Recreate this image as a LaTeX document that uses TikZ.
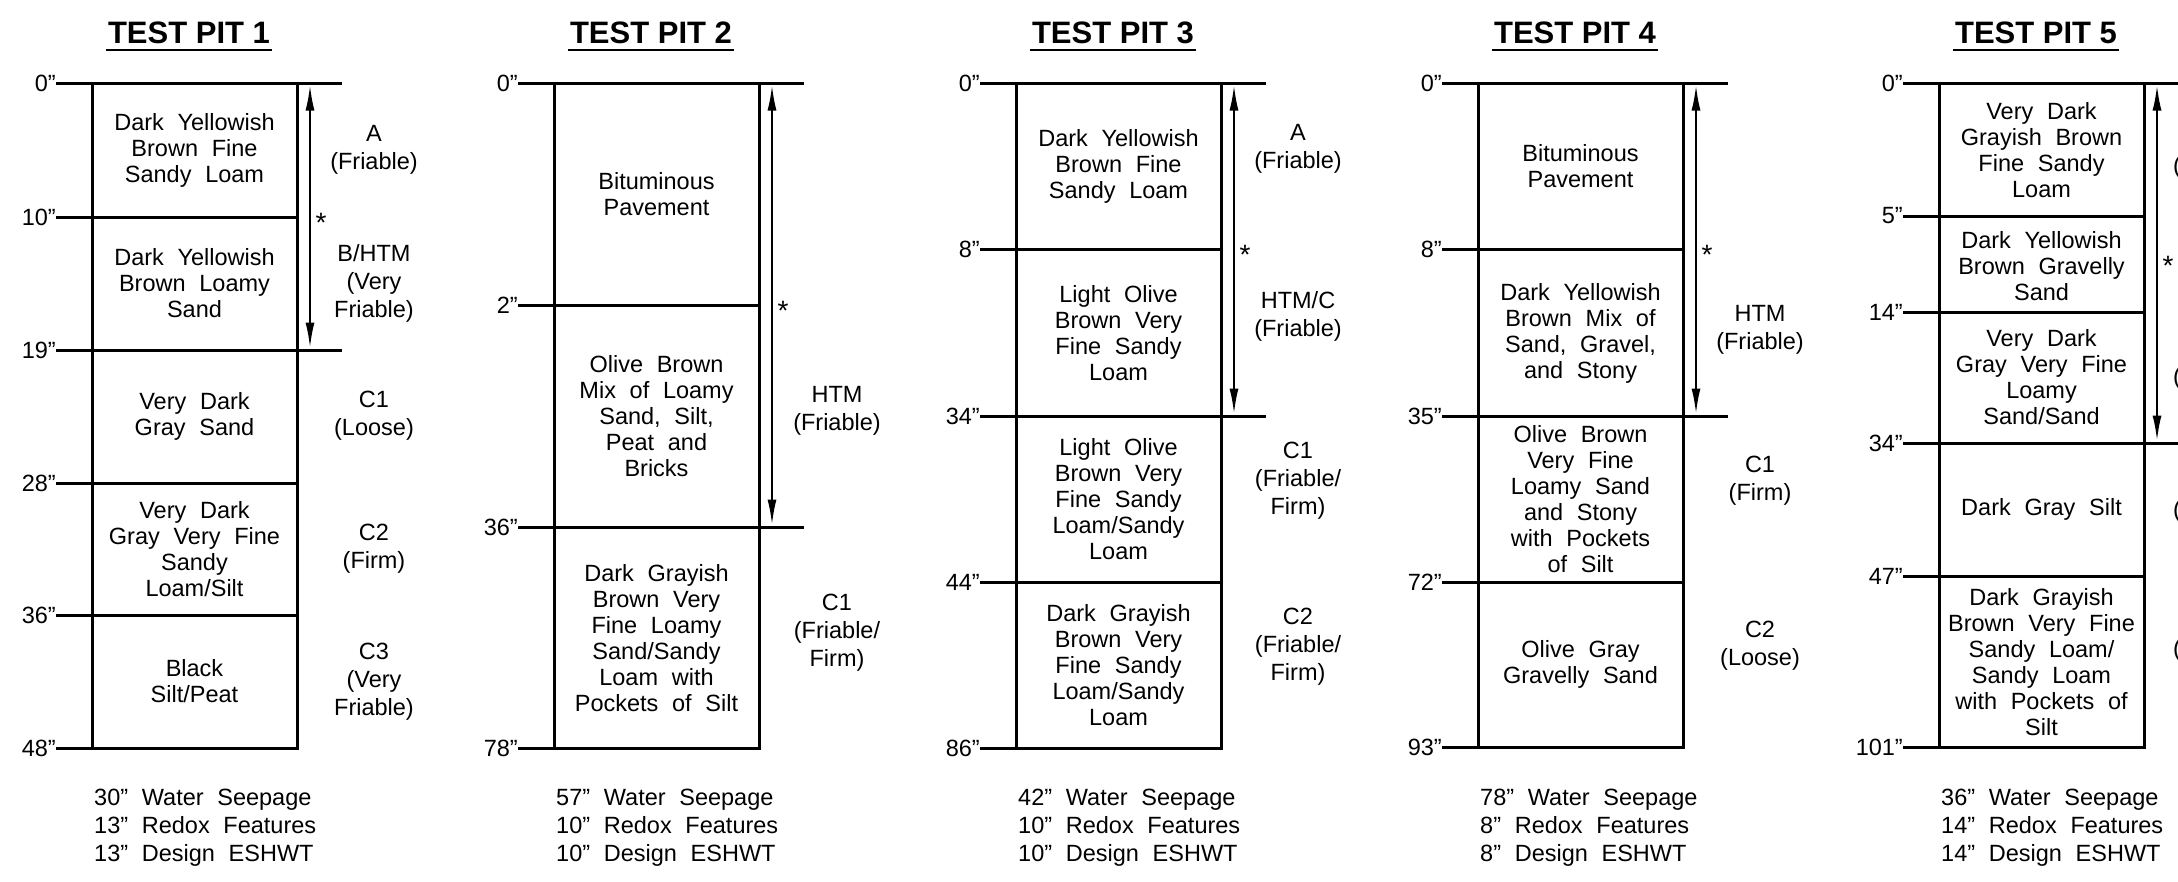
\documentclass[tikz,border=0pt]{standalone}
\usepackage{fontspec}
\setmainfont{Liberation Sans}[WordSpace=2.1]
\newfontfamily\titlefont{Liberation Sans}[WordSpace=1]
\usetikzlibrary{arrows.meta,calc}
\tikzset{
  soil/.style={align=center,inner sep=0pt,font=\fontsize{23.5}{26}\selectfont},
  hz/.style={align=center,inner sep=0pt,font=\fontsize{23.5}{28}\selectfont},
  dlbl/.style={anchor=east,inner sep=0pt,xshift=-1pt,font=\fontsize{23.5}{26}\selectfont},
  note/.style={anchor=base west,inner sep=0pt,font=\fontsize{23.5}{26}\selectfont},
  ttl/.style={anchor=base,inner sep=0pt,font=\titlefont\bfseries\fontsize{31}{31}\selectfont},
  uline/.style={line width=2.6pt},
  bnd/.style={line width=3pt,line cap=rect},
  dimarr/.style={line width=2.4pt,{Latex[length=26pt,width=9pt]}-{Latex[length=26pt,width=9pt]},shorten <=1.5pt,shorten >=1.5pt},
  ast/.style={inner sep=0pt,yshift=-6pt,font=\fontsize{28}{30}\selectfont},
  paren/.style={anchor=west,inner sep=0pt,font=\fontsize{23.5}{26}\selectfont},
}
\begin{document}
\begin{tikzpicture}[x=1pt,y=-1pt]
\useasboundingbox (0,0) rectangle (2178,881);
\clip (0,0) rectangle (2178,881);
\fill[white] (0,0) rectangle (2178,881);

% ---------------- TEST PIT 1 ----------------
\begin{scope}[xshift=92pt]
\node[ttl] (t1) at (97,43) {TEST PIT 1};
\draw[uline] ($(t1.base west)+(-2,7)$) -- ($(t1.base east)+(2,7)$);
\draw[bnd] (0,83) -- (0,748) (205,83) -- (205,748);
\draw[bnd] (-35,83) -- (248,83) (-35,217) -- (205,217) (-35,350) -- (248,350)
  (-35,483) -- (205,483) (-35,615) -- (205,615) (-35,748) -- (205,748);
\node[dlbl] (d1a) at (-35,83) {0”};
\node[dlbl] (d1b) at (-35,217) {10”};
\node[dlbl] (d1c) at (-35,350) {19”};
\node[dlbl] (d1d) at (-35,483) {28”};
\node[dlbl] (d1e) at (-35,615) {36”};
\node[dlbl] (d1f) at (-35,748) {48”};
\coordinate (a1t) at (218,83); \coordinate (a1b) at (218,350);
\draw[dimarr] (a1t) -- (a1b);
\node[ast] (s1) at (229,217) {*};
\node[soil] (l1a) at (102.5,150) {Dark Yellowish\\Brown Fine\\Sandy Loam};
\node[soil] (l1b) at (102.5,283) {Dark Yellowish\\Brown Loamy\\Sand};
\node[soil] (l1c) at (102.5,416) {Very Dark\\Gray Sand};
\node[soil] (l1d) at (102.5,549) {Very Dark\\Gray Very Fine\\Sandy\\Loam/Silt};
\node[soil] (l1e) at (102.5,681) {Black\\Silt/Peat};
\node[hz] (h1a) at (282,150) {A\\(Friable)};
\node[hz] (h1b) at (282,283) {B/HTM\\(Very\\Friable)};
\node[hz] (h1c) at (282,416) {C1\\(Loose)};
\node[hz] (h1d) at (282,549) {C2\\(Firm)};
\node[hz] (h1e) at (282,682) {C3\\(Very\\Friable)};
\node[note] (n1a) at (2,805) {30” Water Seepage};
\node[note] (n1b) at (2,833) {13” Redox Features};
\node[note] (n1c) at (2,861) {13” Design ESHWT};
\end{scope}

% ---------------- TEST PIT 2 ----------------
\begin{scope}[xshift=554pt]
\node[ttl] (t2) at (97,43) {TEST PIT 2};
\draw[uline] ($(t2.base west)+(-2,7)$) -- ($(t2.base east)+(2,7)$);
\draw[bnd] (0,83) -- (0,748) (205,83) -- (205,748);
\draw[bnd] (-35,83) -- (248,83) (-35,305) -- (205,305) (-35,527) -- (248,527)
  (-35,748) -- (205,748);
\node[dlbl] (d2a) at (-35,83) {0”};
\node[dlbl] (d2b) at (-35,305) {2”};
\node[dlbl] (d2c) at (-35,527) {36”};
\node[dlbl] (d2d) at (-35,748) {78”};
\coordinate (a2t) at (218,83); \coordinate (a2b) at (218,527);
\draw[dimarr] (a2t) -- (a2b);
\node[ast] (s2) at (229,305) {*};
\node[soil] (l2a) at (102.5,194) {Bituminous\\Pavement};
\node[soil] (l2b) at (102.5,416) {Olive Brown\\Mix of Loamy\\Sand, Silt,\\Peat and\\Bricks};
\node[soil] (l2c) at (102.5,638) {Dark Grayish\\Brown Very\\Fine Loamy\\Sand/Sandy\\Loam with\\Pockets of Silt};
\node[hz] (h2a) at (283,411) {HTM\\(Friable)};
\node[hz] (h2b) at (283,633) {C1\\(Friable/\\Firm)};
\node[note] (n2a) at (2,805) {57” Water Seepage};
\node[note] (n2b) at (2,833) {10” Redox Features};
\node[note] (n2c) at (2,861) {10” Design ESHWT};
\end{scope}

% ---------------- TEST PIT 3 ----------------
\begin{scope}[xshift=1016pt]
\node[ttl] (t3) at (97,43) {TEST PIT 3};
\draw[uline] ($(t3.base west)+(-2,7)$) -- ($(t3.base east)+(2,7)$);
\draw[bnd] (0,83) -- (0,748) (205,83) -- (205,748);
\draw[bnd] (-35,83) -- (248,83) (-35,249) -- (205,249) (-35,416) -- (248,416)
  (-35,582) -- (205,582) (-35,748) -- (205,748);
\node[dlbl] (d3a) at (-35,83) {0”};
\node[dlbl] (d3b) at (-35,249) {8”};
\node[dlbl] (d3c) at (-35,416) {34”};
\node[dlbl] (d3d) at (-35,582) {44”};
\node[dlbl] (d3e) at (-35,748) {86”};
\coordinate (a3t) at (218,83); \coordinate (a3b) at (218,416);
\draw[dimarr] (a3t) -- (a3b);
\node[ast] (s3) at (229,249) {*};
\node[soil] (l3a) at (102.5,166) {Dark Yellowish\\Brown Fine\\Sandy Loam};
\node[soil] (l3b) at (102.5,333) {Light Olive\\Brown Very\\Fine Sandy\\Loam};
\node[soil] (l3c) at (102.5,499) {Light Olive\\Brown Very\\Fine Sandy\\Loam/Sandy\\Loam};
\node[soil] (l3d) at (102.5,665) {Dark Grayish\\Brown Very\\Fine Sandy\\Loam/Sandy\\Loam};
\node[hz] (h3a) at (282,149) {A\\(Friable)};
\node[hz] (h3b) at (282,316) {HTM/C\\(Friable)};
\node[hz] (h3c) at (282,481) {C1\\(Friable/\\Firm)};
\node[hz] (h3d) at (282,647) {C2\\(Friable/\\Firm)};
\node[note] (n3a) at (2,805) {42” Water Seepage};
\node[note] (n3b) at (2,833) {10” Redox Features};
\node[note] (n3c) at (2,861) {10” Design ESHWT};
\end{scope}

% ---------------- TEST PIT 4 ----------------
\begin{scope}[xshift=1478pt]
\node[ttl] (t4) at (97,43) {TEST PIT 4};
\draw[uline] ($(t4.base west)+(-2,7)$) -- ($(t4.base east)+(2,7)$);
\draw[bnd] (0,83) -- (0,747) (205,83) -- (205,747);
\draw[bnd] (-35,83) -- (248,83) (-35,249) -- (205,249) (-35,416) -- (248,416)
  (-35,582) -- (205,582) (-35,747) -- (205,747);
\node[dlbl] (d4a) at (-35,83) {0”};
\node[dlbl] (d4b) at (-35,249) {8”};
\node[dlbl] (d4c) at (-35,416) {35”};
\node[dlbl] (d4d) at (-35,582) {72”};
\node[dlbl] (d4e) at (-35,747) {93”};
\coordinate (a4t) at (218,83); \coordinate (a4b) at (218,416);
\draw[dimarr] (a4t) -- (a4b);
\node[ast] (s4) at (229,249) {*};
\node[soil] (l4a) at (102.5,166) {Bituminous\\Pavement};
\node[soil] (l4b) at (102.5,333) {Dark Yellowish\\Brown Mix of\\Sand, Gravel,\\and Stony};
\node[soil] (l4c) at (102.5,499) {Olive Brown\\Very Fine\\Loamy Sand\\and Stony\\with Pockets\\of Silt};
\node[soil] (l4d) at (102.5,664) {Olive Gray\\Gravelly Sand};
\node[hz] (h4a) at (282,330) {HTM\\(Friable)};
\node[hz] (h4b) at (282,481) {C1\\(Firm)};
\node[hz] (h4c) at (282,646) {C2\\(Loose)};
\node[note] (n4a) at (2,805) {78” Water Seepage};
\node[note] (n4b) at (2,833) {8” Redox Features};
\node[note] (n4c) at (2,861) {8” Design ESHWT};
\end{scope}

% ---------------- TEST PIT 5 ----------------
\begin{scope}[xshift=1939pt]
\node[ttl] (t5) at (97,43) {TEST PIT 5};
\draw[uline] ($(t5.base west)+(-2,7)$) -- ($(t5.base east)+(2,7)$);
\draw[bnd] (0,83) -- (0,747) (205,83) -- (205,747);
\draw[bnd] (-35,83) -- (248,83) (-35,216) -- (205,216) (-35,312) -- (205,312)
  (-35,443) -- (248,443) (-35,576) -- (205,576) (-35,747) -- (205,747);
\node[dlbl] (d5a) at (-35,83) {0”};
\node[dlbl] (d5b) at (-35,216) {5”};
\node[dlbl] (d5c) at (-35,312) {14”};
\node[dlbl] (d5d) at (-35,443) {34”};
\node[dlbl] (d5e) at (-35,576) {47”};
\node[dlbl] (d5f) at (-35,747) {101”};
\coordinate (a5t) at (218,83); \coordinate (a5b) at (218,443);
\draw[dimarr] (a5t) -- (a5b);
\node[ast] (s5) at (229,260) {*};
\node[soil] (l5a) at (102.5,150) {Very Dark\\Grayish Brown\\Fine Sandy\\Loam};
\node[soil] (l5b) at (102.5,266) {Dark Yellowish\\Brown Gravelly\\Sand};
\node[soil] (l5c) at (102.5,377) {Very Dark\\Gray Very Fine\\Loamy\\Sand/Sand};
\node[soil] (l5d) at (102.5,509) {Dark Gray Silt};
\node[soil] (l5e) at (102.5,662) {Dark Grayish\\Brown Very Fine\\Sandy Loam/\\Sandy Loam\\with Pockets of\\Silt};
\node[paren] (p5a) at (234,167) {(};
\node[paren] (p5b) at (234,378) {(};
\node[paren] (p5c) at (234,511) {(};
\node[paren] (p5d) at (234,650) {(};
\node[note] (n5a) at (2,805) {36” Water Seepage};
\node[note] (n5b) at (2,833) {14” Redox Features};
\node[note] (n5c) at (2,861) {14” Design ESHWT};
\end{scope}
\end{tikzpicture}
\end{document}
